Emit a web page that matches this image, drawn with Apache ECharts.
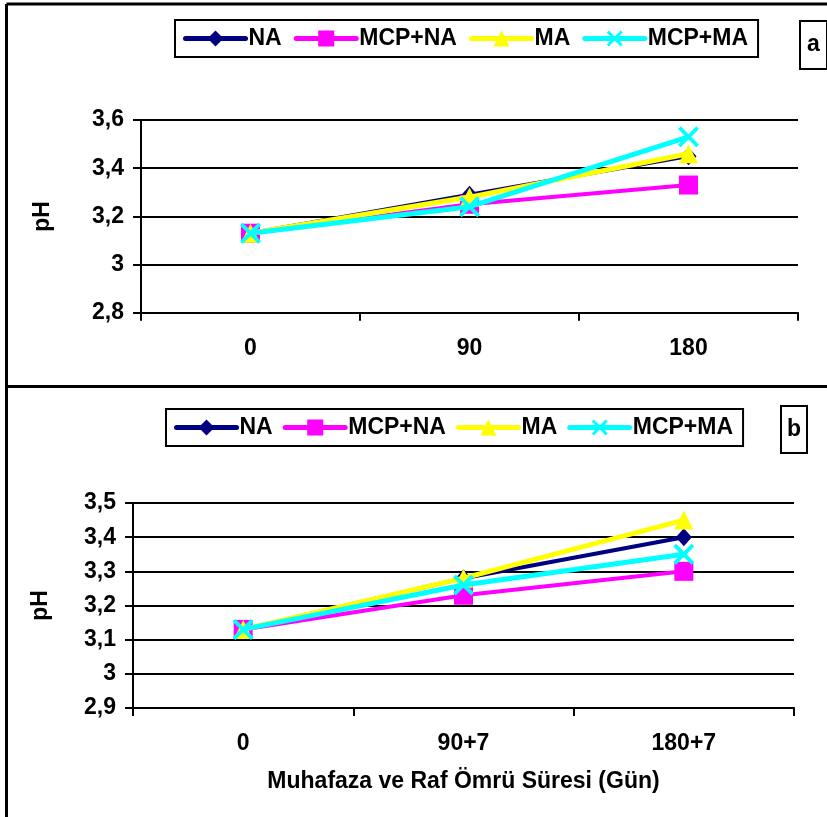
<!DOCTYPE html>
<html>
<head>
<meta charset="utf-8">
<script src="https://cdn.jsdelivr.net/npm/echarts@6/dist/echarts.min.js"></script>
<style>
html,body{margin:0;padding:0;background:#fff;}
#chart{width:827px;height:817px;}
</style>
</head>
<body>
<div id="chart"></div>
<script>
// ---- data ----
const seriesNames = ['NA', 'MCP+NA', 'MA', 'MCP+MA'];
const categoriesA = ['0', '90', '180'];
const categoriesB = ['0', '90+7', '180+7'];
const valuesA_NA    = [3.13, 3.29, 3.45];
const valuesA_MCPNA = [3.13, 3.25, 3.33];
const valuesA_MA    = [3.13, 3.28, 3.46];
const valuesA_MCPMA = [3.13, 3.24, 3.53];
const valuesB_NA    = [3.13, 3.28, 3.40];
const valuesB_MCPNA = [3.13, 3.23, 3.30];
const valuesB_MA    = [3.13, 3.28, 3.45];
const valuesB_MCPMA = [3.13, 3.26, 3.35];
const yTitle = 'pH';
const xTitle = 'Muhafaza ve Raf Ömrü Süresi (Gün)';
const panelLabels = ['a', 'b'];

// ---- styles ----
const FONT = '"Liberation Sans", Arial, sans-serif';
const FS = 23;
const colors = ['#000080', '#ff00ff', '#ffff00', '#00ffff'];
const crossPath = 'path://M0,1.3L1.3,0L5,3.7L8.7,0L10,1.3L6.3,5L10,8.7L8.7,10L5,6.3L1.3,10L0,8.7L3.7,5Z';
const symbols = ['diamond', 'rect', 'triangle', crossPath];
const symbolSizes = [[16, 18], 19, 19, 21];
const lineWidths = [4, 4, 5, 5];

const chart = echarts.init(document.getElementById('chart'), null, {renderer: 'canvas'});

const fmt = v => String(+v.toFixed(1)).replace('.', ',');

function makeY(idx, min, max, interval, gap) {
  return {
    type: 'value', gridIndex: idx, min: min, max: max, interval: interval,
    name: yTitle, nameLocation: 'middle', nameGap: gap, nameRotate: 90,
    nameTextStyle: {fontFamily: FONT, fontSize: FS, fontWeight: 'bold', color: '#000'},
    axisLine: {show: true, lineStyle: {color: '#000', width: 2}},
    axisTick: {show: true, inside: false, length: 8, lineStyle: {color: '#000', width: 2}},
    axisLabel: {margin: 17, formatter: fmt, fontFamily: FONT, fontSize: FS, fontWeight: 'bold', color: '#000'},
    splitLine: {show: true, lineStyle: {color: '#000', width: 2}}
  };
}
function makeX(idx, cats, withName) {
  const o = {
    type: 'category', gridIndex: idx, data: cats, boundaryGap: true,
    axisLine: {show: true, lineStyle: {color: '#000', width: 2}},
    axisTick: {show: true, inside: false, length: 8, alignWithLabel: false, lineStyle: {color: '#000', width: 2}},
    axisLabel: {margin: 24, fontFamily: FONT, fontSize: FS, fontWeight: 'bold', color: '#000'},
    splitLine: {show: false}
  };
  if (withName) {
    o.name = xTitle; o.nameLocation = 'middle'; o.nameGap = 62;
    o.nameTextStyle = {fontFamily: FONT, fontSize: FS, fontWeight: 'bold', color: '#000'};
  }
  return o;
}
function makeSeries(idx, name, data, k) {
  return {
    type: 'line', name: name, xAxisIndex: idx, yAxisIndex: idx, data: data,
    symbol: symbols[k], symbolSize: symbolSizes[k], showSymbol: true,
    lineStyle: {color: colors[k], width: lineWidths[k]},
    itemStyle: {color: colors[k]},
    animation: false, z: 2 + k
  };
}
function makeLegend(left, top, gap) {
  return {
    data: seriesNames, left: left, top: top, orient: 'horizontal',
    itemWidth: 60, itemHeight: 20, itemGap: gap,
    padding: [7, 10, 7, 8],
    borderColor: '#000', borderWidth: 2, backgroundColor: '#fff',
    selectedMode: false,
    lineStyle: {width: 5, cap: 'round'},
    textStyle: {fontFamily: FONT, fontSize: FS, fontWeight: 'bold', color: '#000', padding: [0, 0, 0, -2]}
  };
}
function labelBox(x, y, w, h, txt) {
  return {
    type: 'group', left: x, top: y,
    children: [
      {type: 'rect', shape: {x: 0, y: 0, width: w, height: h}, style: {fill: '#fff', stroke: '#000', lineWidth: 2}},
      {type: 'text', style: {x: w / 2, y: h / 2, text: txt, align: 'center', verticalAlign: 'middle',
        font: 'bold ' + FS + 'px ' + FONT, fill: '#000'}}
    ]
  };
}

const option = {
  backgroundColor: '#fff',
  animation: false,
  textStyle: {fontFamily: FONT},
  grid: [
    {left: 141, right: 29, top: 120, height: 192.7, containLabel: false},
    {left: 133, right: 33, top: 503, height: 205, containLabel: false}
  ],
  xAxis: [makeX(0, categoriesA, false), makeX(1, categoriesB, true)],
  yAxis: [makeY(0, 2.8, 3.6, 0.2, 87), makeY(1, 2.9, 3.5, 0.1, 81)],
  legend: [makeLegend(175, 20, 12), makeLegend(166, 409, 10)],
  series: [
    makeSeries(0, seriesNames[0], valuesA_NA, 0),
    makeSeries(0, seriesNames[1], valuesA_MCPNA, 1),
    makeSeries(0, seriesNames[2], valuesA_MA, 2),
    makeSeries(0, seriesNames[3], valuesA_MCPMA, 3),
    makeSeries(1, seriesNames[0], valuesB_NA, 0),
    makeSeries(1, seriesNames[1], valuesB_MCPNA, 1),
    makeSeries(1, seriesNames[2], valuesB_MA, 2),
    makeSeries(1, seriesNames[3], valuesB_MCPMA, 3)
  ],
  graphic: [
    {type: 'line', shape: {x1: 6.5, y1: 4, x2: 827, y2: 4}, style: {stroke: '#000', lineWidth: 3}},
    {type: 'line', shape: {x1: 6.5, y1: 4, x2: 6.5, y2: 817}, style: {stroke: '#000', lineWidth: 3}},
    {type: 'line', shape: {x1: 6.5, y1: 386.5, x2: 827, y2: 386.5}, style: {stroke: '#000', lineWidth: 3}},
    labelBox(799, 20, 27, 48, panelLabels[0]),
    labelBox(780, 405, 26, 47, panelLabels[1])
  ]
};
chart.setOption(option);
</script>
</body>
</html>
